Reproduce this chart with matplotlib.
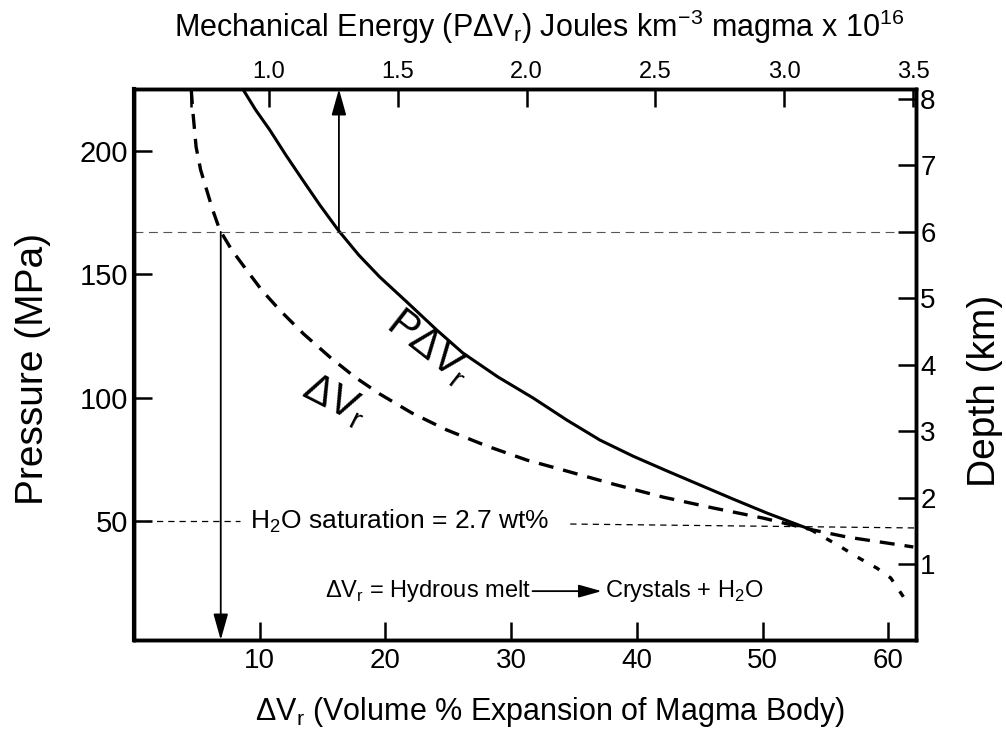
import matplotlib.pyplot as plt
import numpy as np

plt.rcParams['font.family'] = ['Liberation Sans', 'DejaVu Sans']

# P*dVr curve (solid), dVr in % vs pressure in MPa
pdv_x = [8.65, 9.68, 10.80, 12.07, 13.42, 14.78, 16.29, 17.88, 19.55, 21.70, 24.09,
         26.16, 28.95, 31.74, 34.44, 37.07, 39.70, 42.40, 45.03, 47.66, 50.37, 53.8]
pdv_p = [225.1, 216.6, 208.5, 198.4, 188.2, 178.1, 167.6, 157.8, 148.9, 138.8, 127.4,
         118.1, 108.4, 99.9, 90.9, 82.8, 76.3, 70.3, 64.6, 58.9, 53.2, 46.6]

# dVr curve (dashed)
dv_x = [4.55, 4.67, 4.94, 5.30, 5.78, 6.26, 6.82, 7.77, 8.96, 10.16, 11.59, 13.50,
        15.57, 17.56, 19.55, 22.10, 24.89, 28.07, 31.26, 34.12, 38.11, 42.09, 46.07,
        50.05, 53.8, 56.74, 61.99]
dv_p = [225.1, 216.6, 201.6, 192.3, 184.2, 176.1, 168.0, 159.9, 151.7, 143.6, 135.5,
        125.8, 116.5, 108.4, 101.5, 93.8, 86.9, 80.4, 74.7, 70.7, 65.0, 59.7, 55.3,
        51.2, 46.6, 43.5, 39.5]

# dotted branch below H2O saturation
dot_x = [53.8, 56.2, 57.5, 59.1, 60.2, 61.2]
dot_p = [46.6, 39.6, 35.5, 30.9, 26.9, 19.3]

# reference levels
p_marked = 167.2          # 6 km line
x_down = 6.9              # dVr at 6 km
x_up = 16.3               # P*dVr at 6 km
p_sat_left = 50.0
p_sat_right = [48.8, 47.2]
x_sat_right = [34.7, 62.2]

press_ticks = [50, 100, 150, 200]
dv_ticks = [10, 20, 30, 40, 50, 60]
energy_ticks = [0.7, 1.0, 1.5, 2.0, 2.5, 3.0, 3.5]
energy_labels = ['', '1.0', '1.5', '2.0', '2.5', '3.0', '3.5']
depth_ticks = [1, 2, 3, 4, 5, 6, 7, 8]

XMAX, PMIN, PMAX = 62.2, 1.8, 225.1


def to_energy(x):
    return 1.0 + (x - 10.7) * 0.04873


def to_depth(p):
    return 0.03714 * p - 0.2096


fig = plt.figure(figsize=(10.06, 7.38), dpi=100)
ax = fig.add_axes([0.1332, 0.1328, 0.7773, 0.7466])
ax.set_xlim(0, XMAX)
ax.set_ylim(PMIN, PMAX)

ax.plot(pdv_x, pdv_p, color='k', lw=2.2)
ax.plot(dv_x, dv_p, color='k', lw=2.4, dashes=(4.5, 3))
ax.plot(dot_x, dot_p, color='k', lw=2.4, dashes=(2, 3.5))

# 6 km and saturation lines
ax.plot([0, XMAX], [p_marked, p_marked], color='#555555', lw=0.8, dashes=(8, 5))
ax.plot([0, 8.4], [p_sat_left, p_sat_left], color='k', lw=0.9, dashes=(5, 4))
ax.plot(x_sat_right, p_sat_right, color='k', lw=0.9, dashes=(5, 4))

head = '-|>,head_length=1.0,head_width=0.28'
arrow = dict(arrowstyle=head, color='k', lw=1.3, shrinkA=0, shrinkB=0,
             mutation_scale=16)
ax.annotate('', xy=(x_down, PMIN), xytext=(x_down, p_marked), arrowprops=arrow)
ax.annotate('', xy=(x_up, PMAX), xytext=(x_up, p_marked), arrowprops=arrow)

ax.text(9.2, 50, 'H$_\\mathregular{2}$O saturation = 2.7 wt%', fontsize=19,
        ha='left', va='center')
ax.text(15.2, 21.6, '\u0394V$_\\mathregular{r}$ = Hydrous melt', fontsize=17,
        ha='left', va='center')
ax.annotate('', xy=(37.2, 21.6), xytext=(31.7, 21.6),
            arrowprops=dict(arrowstyle=head, color='k', lw=1.3, shrinkA=0,
                            shrinkB=0, mutation_scale=14))
ax.text(37.5, 21.6, 'Crystals + H$_\\mathregular{2}$O', fontsize=17,
        ha='left', va='center')

ax.text(23.4, 120.5, 'P\u0394V$_\\mathregular{r}$', fontsize=30, rotation=-38,
        ha='center', va='center')
ax.text(16.0, 99, '\u0394V$_\\mathregular{r}$', fontsize=30, rotation=-27,
        ha='center', va='center')

ax.set_xticks(dv_ticks)
ax.set_yticks(press_ticks)
ax.tick_params(axis='both', direction='in', length=13, width=1.8, labelsize=20, pad=6)
ax.tick_params(axis='y', labelsize=21, pad=4)

top = ax.twiny()
top.set_xlim(to_energy(0), to_energy(XMAX))
top.set_xticks(energy_ticks)
top.set_xticklabels(energy_labels)
top.tick_params(direction='in', length=13, width=1.8, labelsize=17, pad=4)

right = ax.twinx()
right.set_ylim(to_depth(PMIN), to_depth(PMAX))
right.set_yticks(depth_ticks)
right.tick_params(direction='in', length=13, width=1.8, labelsize=20, pad=3)

for a in (ax, top, right):
    for s in a.spines.values():
        s.set_linewidth(2.4)
ax.spines['left'].set_linewidth(3.0)

fig.text(0.547, 0.035, '\u0394V$_\\mathregular{r}$ (Volume % Expansion of Magma Body)',
         fontsize=22, ha='center', va='center')
fig.text(0.536, 0.963, 'Mechanical Energy (P\u0394V$_\\mathregular{r}$) Joules '
         'km$^\\mathregular{-3}$ magma x 10$^\\mathregular{16}$',
         fontsize=22, ha='center', va='center')
fig.text(0.033, 0.50, 'Pressure (MPa)', fontsize=28, rotation=90,
         ha='center', va='center')
fig.text(0.979, 0.47, 'Depth (km)', fontsize=28, rotation=90,
         ha='center', va='center')

fig.savefig('out.png', dpi=100)
